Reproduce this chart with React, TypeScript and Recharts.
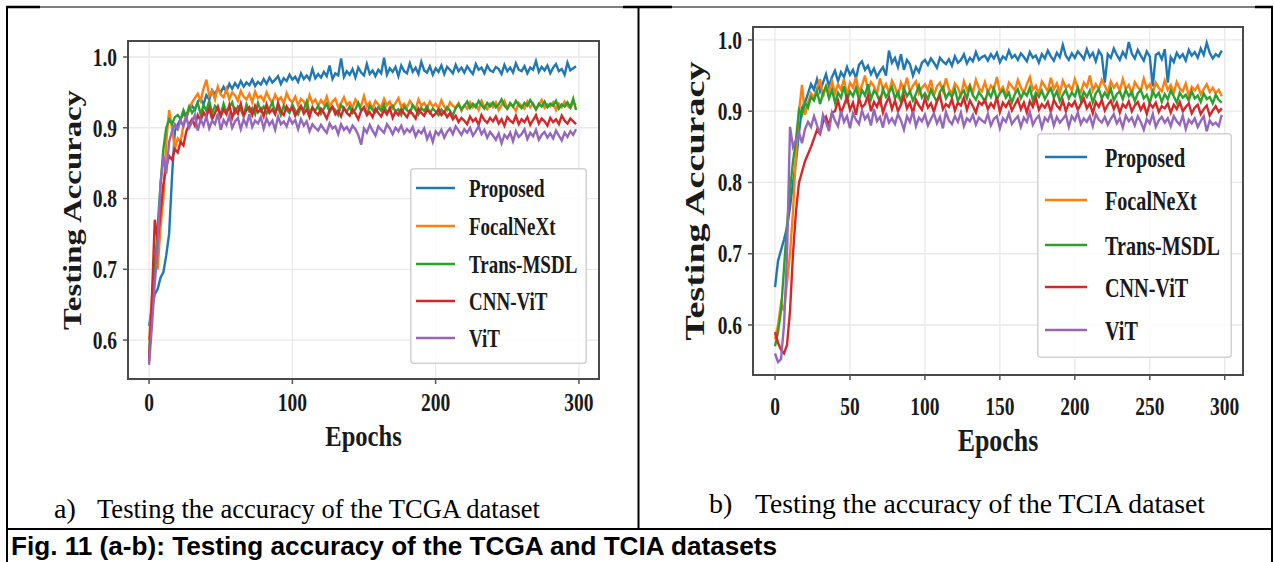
import { LineChart, Line, XAxis, YAxis, CartesianGrid, Legend, ReferenceArea, Label } from "recharts";

const serif = '"Liberation Serif", "Times New Roman", serif';
const sans = '"Liberation Sans", Arial, sans-serif';

// epochs sampled every 2 steps
const epochs = Array.from({ length: 150 }, (_, i) => i * 2);
const modelNames = ["Proposed", "FocalNeXt", "Trans-MSDL", "CNN-ViT", "ViT"];
const modelKeys = ["proposed", "focal", "trans", "cnn", "vit"];
const modelColors = ["#1f77b4", "#ff7f0e", "#2ca02c", "#d62728", "#9467bd"];

const yTicks = [0.6, 0.7, 0.8, 0.9, 1.0];
const tcgaXTicks = [0, 100, 200, 300];
const tciaXTicks = [0, 50, 100, 150, 200, 250, 300];

// (a) TCGA testing accuracy
const tcgaProposed = [
  0.620, 0.645, 0.665, 0.672, 0.688, 0.696, 0.720, 0.750, 0.830, 0.895,
  0.905, 0.912, 0.920, 0.914, 0.926, 0.931, 0.925, 0.937, 0.941, 0.933,
  0.946, 0.940, 0.953, 0.947, 0.956, 0.950, 0.958, 0.951, 0.962, 0.955,
  0.963, 0.957, 0.966, 0.958, 0.964, 0.960, 0.968, 0.959, 0.965, 0.961,
  0.969, 0.962, 0.971, 0.964, 0.968, 0.973, 0.962, 0.970, 0.966, 0.975,
  0.968, 0.972, 0.965, 0.977, 0.969, 0.974, 0.968, 0.983, 0.970, 0.976,
  0.971, 0.979, 0.973, 0.988, 0.969, 0.977, 0.974, 0.998, 0.972, 0.980,
  0.975, 0.983, 0.971, 0.985, 0.978, 0.974, 0.990, 0.976, 0.981, 0.973,
  0.982, 0.977, 0.999, 0.975, 0.984, 0.979, 0.986, 0.973, 0.988, 0.980,
  0.977, 0.991, 0.979, 0.985, 0.976, 0.993, 0.981, 0.978, 0.987, 0.975,
  0.984, 0.979, 0.988, 0.976, 0.986, 0.982, 0.977, 0.989, 0.980, 0.985,
  0.978, 0.987, 0.981, 0.976, 0.990, 0.982, 0.985, 0.977, 0.988, 0.981,
  0.979, 0.986, 0.983, 0.976, 0.989, 0.980, 0.985, 0.978, 0.991, 0.982,
  0.980, 0.987, 0.977, 0.985, 0.982, 0.994, 0.979, 0.986, 0.981, 0.988,
  0.977, 0.985, 0.990, 0.980, 0.983, 0.975, 0.992, 0.981, 0.984, 0.987,
];
const tcgaFocal = [
  0.600, 0.660, 0.720, 0.700, 0.760, 0.800, 0.880, 0.925, 0.900, 0.870,
  0.885, 0.880, 0.905, 0.918, 0.925, 0.936, 0.942, 0.948, 0.938, 0.955,
  0.968, 0.945, 0.952, 0.940, 0.958, 0.947, 0.943, 0.955, 0.940, 0.950,
  0.946, 0.938, 0.952, 0.944, 0.940, 0.948, 0.936, 0.951, 0.942, 0.945,
  0.938, 0.950, 0.941, 0.935, 0.947, 0.939, 0.943, 0.934, 0.949, 0.940,
  0.936, 0.944, 0.932, 0.941, 0.937, 0.930, 0.946, 0.935, 0.940, 0.931,
  0.939, 0.933, 0.944, 0.930, 0.937, 0.941, 0.929, 0.935, 0.943, 0.932,
  0.936, 0.928, 0.940, 0.934, 0.931, 0.945, 0.930, 0.936, 0.927, 0.938,
  0.933, 0.929, 0.941, 0.932, 0.937, 0.928, 0.935, 0.942, 0.930, 0.934,
  0.929, 0.938, 0.932, 0.926, 0.940, 0.931, 0.935, 0.928, 0.937, 0.930,
  0.934, 0.927, 0.939, 0.930, 0.925, 0.936, 0.931, 0.928, 0.935, 0.924,
  0.932, 0.927, 0.936, 0.929, 0.933, 0.925, 0.938, 0.930, 0.926, 0.934,
  0.929, 0.936, 0.925, 0.932, 0.938, 0.927, 0.933, 0.930, 0.924, 0.935,
  0.931, 0.927, 0.937, 0.929, 0.934, 0.926, 0.932, 0.939, 0.928, 0.933,
  0.930, 0.936, 0.925, 0.934, 0.929, 0.937, 0.931, 0.928, 0.935, 0.932,
];
const tcgaTrans = [
  0.580, 0.640, 0.700, 0.760, 0.820, 0.870, 0.900, 0.912, 0.905, 0.915,
  0.918, 0.912, 0.925, 0.916, 0.930, 0.921, 0.927, 0.935, 0.919, 0.932,
  0.924, 0.938, 0.920, 0.931, 0.926, 0.918, 0.934, 0.922, 0.929, 0.936,
  0.921, 0.930, 0.925, 0.917, 0.933, 0.923, 0.928, 0.919, 0.935, 0.924,
  0.930, 0.920, 0.927, 0.936, 0.922, 0.929, 0.918, 0.931, 0.925, 0.921,
  0.933, 0.924, 0.919, 0.929, 0.926, 0.937, 0.921, 0.928, 0.924, 0.931,
  0.920, 0.927, 0.934, 0.922, 0.929, 0.925, 0.918, 0.932, 0.927, 0.923,
  0.930, 0.921, 0.926, 0.935, 0.924, 0.928, 0.919, 0.931, 0.925, 0.922,
  0.929, 0.924, 0.933, 0.920, 0.927, 0.931, 0.923, 0.926, 0.918, 0.930,
  0.925, 0.921, 0.932, 0.926, 0.919, 0.928, 0.924, 0.930, 0.921, 0.927,
  0.923, 0.918, 0.926, 0.921, 0.929, 0.924, 0.917, 0.928, 0.933, 0.926,
  0.931, 0.937, 0.928, 0.934, 0.929, 0.938, 0.932, 0.927, 0.935, 0.930,
  0.936, 0.929, 0.933, 0.940, 0.931, 0.927, 0.935, 0.930, 0.938, 0.932,
  0.928, 0.935, 0.931, 0.939, 0.933, 0.926, 0.934, 0.930, 0.937, 0.929,
  0.934, 0.931, 0.938, 0.927, 0.933, 0.930, 0.936, 0.929, 0.941, 0.925,
];
const tcgaCnn = [
  0.570, 0.660, 0.770, 0.740, 0.780, 0.820, 0.845, 0.860, 0.855, 0.870,
  0.865, 0.880, 0.875, 0.895, 0.905, 0.912, 0.903, 0.918, 0.910, 0.922,
  0.915, 0.928, 0.912, 0.921, 0.930, 0.916, 0.926, 0.919, 0.932, 0.914,
  0.927, 0.920, 0.934, 0.917, 0.925, 0.929, 0.918, 0.931, 0.922, 0.927,
  0.916, 0.933, 0.921, 0.926, 0.919, 0.935, 0.923, 0.918, 0.930, 0.924,
  0.928, 0.917, 0.925, 0.931, 0.920, 0.926, 0.915, 0.929, 0.922, 0.918,
  0.927, 0.921, 0.913, 0.925, 0.930, 0.919, 0.924, 0.916, 0.928, 0.921,
  0.917, 0.926, 0.920, 0.912, 0.924, 0.929, 0.918, 0.922, 0.915, 0.927,
  0.921, 0.916, 0.925, 0.919, 0.928, 0.914, 0.923, 0.918, 0.926, 0.920,
  0.915, 0.924, 0.919, 0.913, 0.927, 0.921, 0.917, 0.925, 0.922, 0.916,
  0.920, 0.926, 0.918, 0.923, 0.915, 0.921, 0.912, 0.917, 0.908, 0.914,
  0.910, 0.905, 0.916, 0.909, 0.913, 0.904, 0.918, 0.911, 0.907, 0.914,
  0.909, 0.916, 0.906, 0.912, 0.903, 0.915, 0.910, 0.907, 0.917, 0.905,
  0.912, 0.908, 0.915, 0.904, 0.911, 0.918, 0.906, 0.913, 0.909, 0.903,
  0.914, 0.908, 0.912, 0.905, 0.917, 0.910, 0.906, 0.913, 0.909, 0.905,
];
const tcgaVit = [
  0.565, 0.620, 0.680, 0.730, 0.820, 0.860, 0.835, 0.880, 0.895, 0.905,
  0.898, 0.910, 0.902, 0.915, 0.900, 0.908, 0.918, 0.896, 0.912, 0.903,
  0.916, 0.899, 0.910, 0.905, 0.920, 0.897, 0.911, 0.904, 0.917, 0.900,
  0.909, 0.914, 0.898, 0.912, 0.903, 0.919, 0.901, 0.910, 0.906, 0.915,
  0.899, 0.913, 0.904, 0.910, 0.897, 0.916, 0.905, 0.909, 0.902, 0.914,
  0.906, 0.911, 0.898, 0.912, 0.903, 0.909, 0.895, 0.905, 0.900, 0.896,
  0.904, 0.898, 0.893, 0.906, 0.899, 0.902, 0.891, 0.905, 0.897, 0.901,
  0.894, 0.903, 0.898, 0.890, 0.876, 0.899, 0.893, 0.904, 0.896, 0.889,
  0.902, 0.897, 0.893, 0.905, 0.899, 0.891, 0.900, 0.895, 0.903, 0.892,
  0.898, 0.894, 0.901, 0.888, 0.896, 0.892, 0.899, 0.884, 0.893, 0.880,
  0.895, 0.890, 0.897, 0.886, 0.894, 0.899, 0.891, 0.902, 0.896, 0.890,
  0.898, 0.893, 0.900, 0.889, 0.895, 0.902, 0.891, 0.897, 0.886, 0.894,
  0.889, 0.883, 0.892, 0.878, 0.890, 0.885, 0.893, 0.881, 0.895, 0.887,
  0.891, 0.898, 0.884, 0.893, 0.888, 0.897, 0.883, 0.890, 0.894, 0.886,
  0.892, 0.885, 0.896, 0.889, 0.882, 0.893, 0.887, 0.895, 0.890, 0.898,
];

// (b) TCIA testing accuracy
const tciaProposed = [
  0.653, 0.690, 0.705, 0.720, 0.737, 0.765, 0.800, 0.830, 0.870, 0.905,
  0.912, 0.925, 0.938, 0.930, 0.945, 0.928, 0.940, 0.952, 0.935, 0.948,
  0.957, 0.942, 0.955, 0.948, 0.962, 0.951, 0.958, 0.946, 0.965, 0.970,
  0.958, 0.964, 0.952, 0.960, 0.948, 0.956, 0.962, 0.950, 0.985, 0.968,
  0.975, 0.962, 0.980, 0.958, 0.972, 0.966, 0.950, 0.962, 0.955, 0.968,
  0.972, 0.965, 0.974, 0.968, 0.961, 0.975, 0.970, 0.966, 0.973, 0.964,
  0.977, 0.968, 0.972, 0.980, 0.967, 0.975, 0.970, 0.983, 0.972, 0.976,
  0.978, 0.971, 0.980, 0.974, 0.982, 0.969, 0.977, 0.973, 0.985, 0.975,
  0.979, 0.972, 0.981, 0.976, 0.970, 0.983, 0.975, 0.978, 0.968, 0.980,
  0.974, 0.985, 0.977, 0.971, 0.982, 0.976, 0.993, 0.978, 0.972, 0.981,
  0.975, 0.984, 0.979, 0.973, 0.987, 0.976, 0.982, 0.970, 0.985, 0.978,
  0.940, 0.980, 0.975, 0.988, 0.979, 0.972, 0.983, 0.976, 0.997, 0.981,
  0.974, 0.986, 0.978, 0.971, 0.984, 0.977, 0.935, 0.979, 0.982, 0.973,
  0.987, 0.940, 0.976, 0.969, 0.982, 0.975, 0.980, 0.971, 0.986, 0.978,
  0.983, 0.975, 0.988, 0.979, 0.996, 0.982, 0.974, 0.980, 0.977, 0.985,
];
const tciaFocal = [
  0.580, 0.600, 0.630, 0.620, 0.660, 0.700, 0.760, 0.840, 0.900, 0.937,
  0.895, 0.912, 0.925, 0.918, 0.932, 0.945, 0.920, 0.935, 0.928, 0.942,
  0.925, 0.938, 0.930, 0.945, 0.922, 0.940, 0.933, 0.948, 0.927, 0.936,
  0.950, 0.929, 0.941, 0.935, 0.924, 0.946, 0.931, 0.938, 0.926, 0.943,
  0.934, 0.921, 0.940, 0.930, 0.947, 0.927, 0.936, 0.942, 0.925, 0.933,
  0.938, 0.929, 0.944, 0.922, 0.935, 0.940, 0.928, 0.946, 0.931, 0.925,
  0.939, 0.933, 0.921, 0.942, 0.930, 0.937, 0.926, 0.944, 0.932, 0.928,
  0.941, 0.925, 0.936, 0.931, 0.948, 0.927, 0.934, 0.922, 0.940, 0.935,
  0.929, 0.944, 0.933, 0.926, 0.938, 0.948, 0.930, 0.936, 0.924, 0.942,
  0.935, 0.928, 0.947, 0.931, 0.939, 0.925, 0.943, 0.933, 0.937, 0.929,
  0.945, 0.932, 0.927, 0.940, 0.934, 0.950, 0.929, 0.938, 0.931, 0.944,
  0.936, 0.926, 0.942, 0.933, 0.939, 0.928, 0.945, 0.931, 0.937, 0.924,
  0.941, 0.934, 0.929, 0.946, 0.932, 0.938, 0.925, 0.940, 0.933, 0.928,
  0.943, 0.930, 0.937, 0.926, 0.941, 0.932, 0.928, 0.939, 0.922, 0.934,
  0.929, 0.936, 0.924, 0.931, 0.938, 0.927, 0.933, 0.925, 0.930, 0.921,
];
const tciaTrans = [
  0.570, 0.590, 0.620, 0.680, 0.740, 0.790, 0.830, 0.860, 0.902, 0.895,
  0.912, 0.905, 0.920, 0.915, 0.928, 0.910, 0.925, 0.935, 0.918, 0.930,
  0.912, 0.926, 0.919, 0.935, 0.915, 0.928, 0.921, 0.933, 0.916, 0.930,
  0.922, 0.938, 0.917, 0.929, 0.924, 0.912, 0.931, 0.920, 0.926, 0.934,
  0.918, 0.927, 0.913, 0.932, 0.921, 0.928, 0.915, 0.924, 0.936, 0.919,
  0.925, 0.917, 0.930, 0.921, 0.913, 0.927, 0.934, 0.918, 0.926, 0.920,
  0.931, 0.914, 0.924, 0.929, 0.918, 0.935, 0.922, 0.916, 0.927, 0.921,
  0.913, 0.928, 0.920, 0.932, 0.917, 0.925, 0.930, 0.919, 0.926, 0.912,
  0.924, 0.931, 0.918, 0.927, 0.922, 0.933, 0.915, 0.926, 0.920, 0.929,
  0.917, 0.925, 0.932, 0.919, 0.928, 0.914, 0.923, 0.930, 0.918, 0.926,
  0.921, 0.933, 0.916, 0.927, 0.920, 0.929, 0.912, 0.925, 0.931, 0.918,
  0.926, 0.919, 0.932, 0.915, 0.924, 0.928, 0.917, 0.930, 0.921, 0.927,
  0.914, 0.925, 0.930, 0.918, 0.923, 0.911, 0.928, 0.920, 0.926, 0.913,
  0.924, 0.917, 0.929, 0.921, 0.912, 0.926, 0.919, 0.923, 0.915, 0.928,
  0.918, 0.922, 0.913, 0.925, 0.917, 0.920, 0.911, 0.923, 0.916, 0.912,
];
const tciaCnn = [
  0.590, 0.575, 0.565, 0.560, 0.572, 0.620, 0.700, 0.760, 0.800, 0.815,
  0.830, 0.840, 0.850, 0.862, 0.874, 0.868, 0.885, 0.892, 0.880, 0.898,
  0.900, 0.915, 0.898, 0.908, 0.920, 0.902, 0.912, 0.895, 0.918, 0.905,
  0.910, 0.922, 0.900, 0.913, 0.906, 0.918, 0.898, 0.911, 0.920, 0.903,
  0.915, 0.900, 0.909, 0.921, 0.904, 0.912, 0.897, 0.916, 0.908, 0.902,
  0.918, 0.905, 0.911, 0.899, 0.914, 0.922, 0.903, 0.910, 0.906, 0.917,
  0.901, 0.912, 0.908, 0.919, 0.902, 0.915, 0.907, 0.898, 0.913, 0.909,
  0.916, 0.903, 0.911, 0.905, 0.920, 0.899, 0.912, 0.906, 0.914, 0.901,
  0.909, 0.917, 0.903, 0.912, 0.898, 0.914, 0.906, 0.919, 0.902, 0.910,
  0.905, 0.913, 0.899, 0.916, 0.908, 0.903, 0.915, 0.900, 0.911, 0.907,
  0.914, 0.902, 0.910, 0.918, 0.904, 0.911, 0.897, 0.913, 0.906, 0.916,
  0.901, 0.909, 0.915, 0.903, 0.912, 0.898, 0.910, 0.905, 0.914, 0.900,
  0.908, 0.913, 0.902, 0.910, 0.896, 0.911, 0.905, 0.912, 0.899, 0.907,
  0.904, 0.911, 0.898, 0.909, 0.903, 0.913, 0.900, 0.906, 0.911, 0.897,
  0.905, 0.909, 0.896, 0.903, 0.908, 0.894, 0.901, 0.907, 0.899, 0.904,
];
const tciaVit = [
  0.560, 0.548, 0.552, 0.600, 0.700, 0.878, 0.850, 0.860, 0.870, 0.855,
  0.875, 0.885, 0.878, 0.893, 0.880, 0.868, 0.895, 0.884, 0.872, 0.898,
  0.887, 0.879, 0.900, 0.885, 0.893, 0.876, 0.897, 0.888, 0.882, 0.901,
  0.889, 0.895, 0.880, 0.903, 0.886, 0.892, 0.877, 0.898, 0.884, 0.890,
  0.882, 0.896, 0.887, 0.874, 0.893, 0.885, 0.900, 0.879, 0.891, 0.886,
  0.895, 0.880, 0.889, 0.897, 0.883, 0.892, 0.876, 0.899, 0.887, 0.882,
  0.893, 0.885, 0.898, 0.879, 0.890, 0.886, 0.895, 0.881, 0.891, 0.887,
  0.884, 0.896, 0.880, 0.889, 0.893, 0.876, 0.890, 0.885, 0.897, 0.882,
  0.888, 0.893, 0.878, 0.891, 0.885, 0.899, 0.881, 0.889, 0.894, 0.877,
  0.891, 0.886, 0.897, 0.880, 0.892, 0.884, 0.889, 0.895, 0.878, 0.893,
  0.887, 0.898, 0.882, 0.890, 0.885, 0.893, 0.879, 0.896, 0.888, 0.884,
  0.892, 0.881, 0.889, 0.896, 0.883, 0.890, 0.877, 0.894, 0.886, 0.891,
  0.880, 0.893, 0.885, 0.874, 0.889, 0.883, 0.896, 0.878, 0.887, 0.892,
  0.884, 0.890, 0.879, 0.893, 0.886, 0.881, 0.894, 0.875, 0.888, 0.883,
  0.890, 0.878, 0.886, 0.893, 0.872, 0.887, 0.881, 0.884, 0.879, 0.895,
];

const toRows = (series: number[][]) =>
  epochs.map((epoch, i) => {
    const row: Record<string, number> = { epoch };
    modelKeys.forEach((k, j) => {
      row[k] = series[j][i];
    });
    return row;
  });

const tcgaRows = toRows([tcgaProposed, tcgaFocal, tcgaTrans, tcgaCnn, tcgaVit]);
const tciaRows = toRows([tciaProposed, tciaFocal, tciaTrans, tciaCnn, tciaVit]);

const XTick = ({ x, y, payload, size, dy }: any) => (
  <g transform={`translate(${x},${y})`}>
    <text transform="scale(0.78,1)" x={0} y={dy} textAnchor="middle" fontFamily={serif} fontWeight="bold" fontSize={size} fill="#1a1a1a">
      {payload.value}
    </text>
  </g>
);

const YTick = ({ x, y, payload, size }: any) => (
  <g transform={`translate(${x},${y})`}>
    <text transform="scale(0.78,1)" x={0} y={0} dy="0.35em" textAnchor="end" fontFamily={serif} fontWeight="bold" fontSize={size} fill="#1a1a1a">
      {Number(payload.value).toFixed(1)}
    </text>
  </g>
);

const YTitle = ({ viewBox, offset, size, length }: any) => {
  const cx = viewBox.x + offset;
  const cy = viewBox.y + viewBox.height / 2;
  return (
    <g transform={`translate(${cx},${cy}) rotate(-90) scale(1,0.8)`}>
      <text x={0} y={0} dy="0.35em" textAnchor="middle" textLength={length} lengthAdjust="spacingAndGlyphs" fontFamily={serif} fontWeight="bold" fontSize={size} fill="#1a1a1a">
        Testing Accuracy
      </text>
    </g>
  );
};

const XTitle = ({ viewBox, offset, size, sx }: any) => {
  const cx = viewBox.x + viewBox.width / 2;
  return (
    <g transform={`translate(${cx},${viewBox.y + offset}) scale(${sx},1)`}>
      <text x={0} y={0} textAnchor="middle" fontFamily={serif} fontWeight="bold" fontSize={size} fill="#1a1a1a">
        Epochs
      </text>
    </g>
  );
};

type LegendSpec = {
  left: number;
  top: number;
  width: number;
  height: number;
  rows: number[];
  line: [number, number];
  textX: number;
  size: number;
  sx: number;
};

const LegendBox = ({ payload, spec }: any) => {
  const s: LegendSpec = spec;
  // keep the series order rather than alphabetical
  const items = [...(payload || [])].sort((a: any, b: any) => modelNames.indexOf(a.value) - modelNames.indexOf(b.value));
  return (
    <svg width={s.width} height={s.height} style={{ display: "block" }}>
      <rect x={0.75} y={0.75} width={s.width - 1.5} height={s.height - 1.5} rx={3} fill="#fff" fillOpacity={0.85} stroke="#d2d2d2" strokeWidth={1.5} />
      {items.map((entry: any, i: number) => (
        <g key={entry.value}>
          <line x1={s.line[0]} x2={s.line[1]} y1={s.rows[i]} y2={s.rows[i]} stroke={entry.color} strokeWidth={2.6} />
          <g transform={`translate(${s.textX},${s.rows[i]}) scale(${s.sx},1)`}>
            <text x={0} y={0} dy="0.35em" fontFamily={serif} fontWeight="bold" fontSize={s.size} fill="#1a1a1a">
              {entry.value}
            </text>
          </g>
        </g>
      ))}
    </svg>
  );
};

type PanelSpec = {
  rows: Record<string, number>[];
  width: number;
  height: number;
  top: number;
  right: number;
  yAxisWidth: number;
  xAxisHeight: number;
  xDomain: [number, number];
  yDomain: [number, number];
  xTicks: number[];
  tickSize: number;
  xTickDy: number;
  yTitle: { offset: number; size: number; length: number };
  xTitle: { offset: number; size: number; sx: number };
  legend: LegendSpec;
};

const Panel = ({ spec }: { spec: PanelSpec }) => (
  <LineChart width={spec.width} height={spec.height} data={spec.rows} margin={{ top: spec.top, right: spec.right, bottom: 0, left: 0 }}>
    <CartesianGrid stroke="#e9e9e9" strokeWidth={1.3} />
    <XAxis
      dataKey="epoch"
      type="number"
      domain={spec.xDomain}
      allowDataOverflow
      ticks={spec.xTicks}
      interval={0}
      height={spec.xAxisHeight}
      axisLine={false}
      tickSize={5}
      tickMargin={0}
      tickLine={{ stroke: "#555", strokeWidth: 1.5 }}
      tick={<XTick size={spec.tickSize} dy={spec.xTickDy} />}
    >
      <Label content={(p: any) => <XTitle viewBox={p.viewBox} {...spec.xTitle} />} />
    </XAxis>
    <YAxis
      type="number"
      domain={spec.yDomain}
      allowDataOverflow
      ticks={yTicks}
      interval={0}
      width={spec.yAxisWidth}
      axisLine={false}
      tickSize={5}
      tickMargin={6}
      tickLine={{ stroke: "#555", strokeWidth: 1.5 }}
      tick={<YTick size={spec.tickSize} />}
    >
      <Label content={(p: any) => <YTitle viewBox={p.viewBox} {...spec.yTitle} />} />
    </YAxis>
    <ReferenceArea
      x1={spec.xDomain[0]}
      x2={spec.xDomain[1]}
      y1={spec.yDomain[0]}
      y2={spec.yDomain[1]}
      fill="none"
      stroke="#4a4a4a"
      strokeWidth={2}
      ifOverflow="visible"
    />
    {modelKeys.map((k, i) => (
      <Line key={k} type="linear" dataKey={k} name={modelNames[i]} stroke={modelColors[i]} strokeWidth={2.4} dot={false} isAnimationActive={false} />
    ))}
    <Legend
      layout="horizontal"
      align="center"
      verticalAlign="middle"
      width={spec.legend.width}
      height={spec.legend.height}
      wrapperStyle={{ position: "absolute", left: spec.legend.left, top: spec.legend.top, width: spec.legend.width, height: spec.legend.height }}
      content={(p: any) => <LegendBox payload={p.payload} spec={spec.legend} />}
    />
  </LineChart>
);

const tcgaPanel: PanelSpec = {
  rows: tcgaRows,
  width: 638,
  height: 470,
  top: 41,
  right: 39,
  yAxisWidth: 128,
  xAxisHeight: 91,
  xDomain: [-14.7, 314],
  yDomain: [0.545, 1.0226],
  xTicks: tcgaXTicks,
  tickSize: 25,
  xTickDy: 27.5,
  yTitle: { offset: 72, size: 31, length: 240 },
  xTitle: { offset: 67, size: 30, sx: 0.82 },
  legend: { left: 410, top: 168, width: 177, height: 196, rows: [20, 58, 96, 133, 170], line: [6, 45], textX: 59, size: 25, sx: 0.76 },
};

const tciaPanel: PanelSpec = {
  rows: tciaRows,
  width: 636,
  height: 470,
  top: 27,
  right: 31,
  yAxisWidth: 115,
  xAxisHeight: 95,
  xDomain: [-14.7, 312.2],
  yDomain: [0.5298, 1.0182],
  xTicks: tciaXTicks,
  tickSize: 25,
  xTickDy: 35,
  yTitle: { offset: 56, size: 35, length: 279 },
  xTitle: { offset: 76, size: 32, sx: 0.81 },
  legend: { left: 399, top: 133, width: 195, height: 225, rows: [24, 67, 112, 154, 197], line: [8, 50], textX: 68, size: 28, sx: 0.72 },
};

export default function App() {
  return (
    <div style={{ position: "absolute", left: 0, top: 0, width: 1274, height: 562, background: "#fff", overflow: "hidden" }}>
      <svg width={1274} height={562} style={{ position: "absolute", left: 0, top: 0 }}>
        {/* table rules */}
        <line x1={6} x2={1273} y1={7} y2={7} stroke="#000" strokeWidth={1.2} />
        <line x1={6} x2={40} y1={7} y2={7} stroke="#000" strokeWidth={2.5} />
        <line x1={623} x2={672} y1={7} y2={7} stroke="#000" strokeWidth={2.5} />
        <line x1={1255} x2={1273} y1={7} y2={7} stroke="#000" strokeWidth={2.5} />
        <line x1={7} x2={7} y1={6} y2={562} stroke="#000" strokeWidth={2} />
        <line x1={638.5} x2={638.5} y1={6} y2={529} stroke="#000" strokeWidth={2} />
        <line x1={1272} x2={1272} y1={6} y2={562} stroke="#000" strokeWidth={2} />
        <line x1={6} x2={1273} y1={529} y2={529} stroke="#000" strokeWidth={2} />
        {/* sub-captions */}
        <text x={54} y={518} fontFamily={serif} fontSize={28} fill="#000">a)</text>
        <text x={97} y={518} fontFamily={serif} fontSize={28} fill="#000" textLength={443} lengthAdjust="spacingAndGlyphs">
          Testing the accuracy of the TCGA dataset
        </text>
        <text x={709} y={513} fontFamily={serif} fontSize={28} fill="#000">b)</text>
        <text x={755} y={513} fontFamily={serif} fontSize={28} fill="#000" textLength={450} lengthAdjust="spacingAndGlyphs">
          Testing the accuracy of the TCIA dataset
        </text>
        <text x={11} y={555} fontFamily={sans} fontWeight="bold" fontSize={26} fill="#000" textLength={766} lengthAdjust="spacingAndGlyphs">
          Fig. 11 (a-b): Testing accuracy of the TCGA and TCIA datasets
        </text>
      </svg>
      <div style={{ position: "absolute", left: 0, top: 0 }}>
        <Panel spec={tcgaPanel} />
      </div>
      <div style={{ position: "absolute", left: 638, top: 0 }}>
        <Panel spec={tciaPanel} />
      </div>
    </div>
  );
}
